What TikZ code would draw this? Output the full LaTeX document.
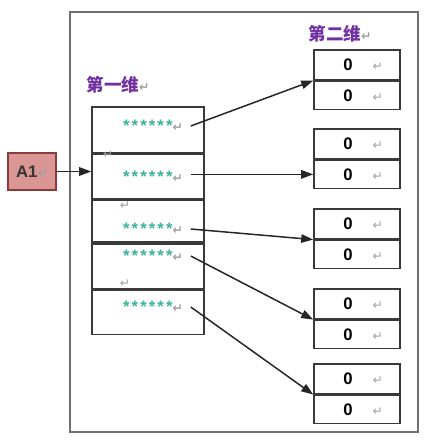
\documentclass[tikz,border=0pt]{standalone}
\usepackage{fontspec}
\setmainfont{Liberation Sans}
\newfontfamily\cjk{Noto Sans CJK SC}
\newfontfamily\dv{DejaVu Sans}
\usetikzlibrary{arrows.meta,positioning}
\definecolor{boxgray}{HTML}{3A3A3A}
\definecolor{framegray}{HTML}{707070}
\definecolor{retgray}{HTML}{A0A0A0}
\definecolor{dimpurple}{HTML}{7030A0}
\definecolor{startl}{HTML}{3DB39B}
\definecolor{aonefill}{HTML}{D99694}
\definecolor{aonedraw}{HTML}{8C3B3B}
\newcommand\ret{{\dv\color{retgray}\fontsize{7}{8}\selectfont ↵}}
\newcommand\stars{{\color{startl}*\kern1.2pt*\kern1.2pt*\kern1.2pt*\kern1.2pt*\kern1.2pt*}}
\newcommand\zero{\hspace*{0.25cm}\textbf{0}\hspace{0.4cm}\ret}

\begin{document}
\begin{tikzpicture}[x=0.02cm, y=-0.02cm, node distance=0pt and 0pt, every node/.style={font=\small}]
\tikzset{frame/.style={draw=framegray, line width=0.9pt, minimum width=6.96cm, minimum height=8.4cm}}
\tikzset{cell/.style={draw=boxgray, line width=0.9pt, minimum width=2.24cm, inner sep=0pt}}
\tikzset{zcell/.style={draw=boxgray, line width=0.9pt, minimum width=1.72cm, inner sep=0pt, font=\fontsize{9.5}{11}\selectfont}}
\tikzset{dimlabel/.style={text=dimpurple, font=\cjk\bfseries\fontsize{10}{12}\selectfont, inner sep=0pt}}
\tikzset{starnode/.style={inner sep=0pt, font=\bfseries\fontsize{9.5}{10}\selectfont}}
\tikzset{retnode/.style={inner sep=0pt}}
\tikzset{arrow/.style={-{Triangle[length=0.24cm, width=0.17cm]}, draw=black!85, line width=0.85pt}}
\useasboundingbox (0,0) rectangle (427,440);
\node[frame] (frame) at (244,222) {};
\node[draw=aonedraw, fill=aonefill, line width=0.8pt, minimum width=0.96cm, minimum height=0.74cm,
  inner sep=0pt, font=\bfseries\fontsize{9.5}{10}\selectfont, text=black!80] (a1) at (32,171.5) {A1\ret};
\node[dimlabel] (dim1) at (118,85) {第一维\ret};
\node[dimlabel] (dim2) at (340,34) {第二维\ret};
% first dimension
\node[cell, minimum height=0.92cm] (c1) at (148,130) {};
\node[cell, minimum height=0.88cm, below=of c1] (c2) {};
\node[cell, minimum height=0.84cm, below=of c2] (c3) {};
\node[cell, minimum height=0.90cm, below=of c3] (c4) {};
\node[cell, minimum height=0.88cm, below=of c4] (c5) {};
\node[starnode] (s1) at (153,126) {\stars\ret};
\node[starnode] (s2) at (153,177) {\stars\ret};
\node[starnode] (s3) at (153,229) {\stars\ret};
\node[starnode] (s4) at (153,256) {\stars\ret};
\node[starnode] (s5) at (153,307) {\stars\ret};
\node[retnode] (r2) at (108,155) {\ret};
\node[retnode] (r3) at (125,206) {\ret};
\node[retnode] (r5) at (125,284) {\ret};
% second dimension
\node[zcell, minimum height=0.6cm, anchor=north] (g1a) at (357,49) {\zero};
\node[zcell, minimum height=0.56cm, below=of g1a] (g1b) {\zero};
\node[zcell, minimum height=0.6cm, anchor=north] (g2a) at (357,128) {\zero};
\node[zcell, minimum height=0.56cm, below=of g2a] (g2b) {\zero};
\node[zcell, minimum height=0.6cm, anchor=north] (g3a) at (357,208) {\zero};
\node[zcell, minimum height=0.56cm, below=of g3a] (g3b) {\zero};
\node[zcell, minimum height=0.6cm, anchor=north] (g4a) at (357,288) {\zero};
\node[zcell, minimum height=0.56cm, below=of g4a] (g4b) {\zero};
\node[zcell, minimum height=0.6cm, anchor=north] (g5a) at (357,363) {\zero};
\node[zcell, minimum height=0.56cm, below=of g5a] (g5b) {\zero};
\draw[arrow] (a1.east) -- (a1.east -| c2.west);
\draw[arrow] ([xshift=0.15cm]s1.east) -- (g1a.south west);
\draw[arrow] ([xshift=0.15cm]s2.east |- g2b.west) -- (g2b.west);
\draw[arrow] ([xshift=0.15cm]s3.east) -- (g3a.south west);
\draw[arrow] ([xshift=0.15cm]s4.east) -- (g4a.south west);
\draw[arrow] ([xshift=0.15cm]s5.east) -- (g5a.south west);
\end{tikzpicture}
\end{document}
